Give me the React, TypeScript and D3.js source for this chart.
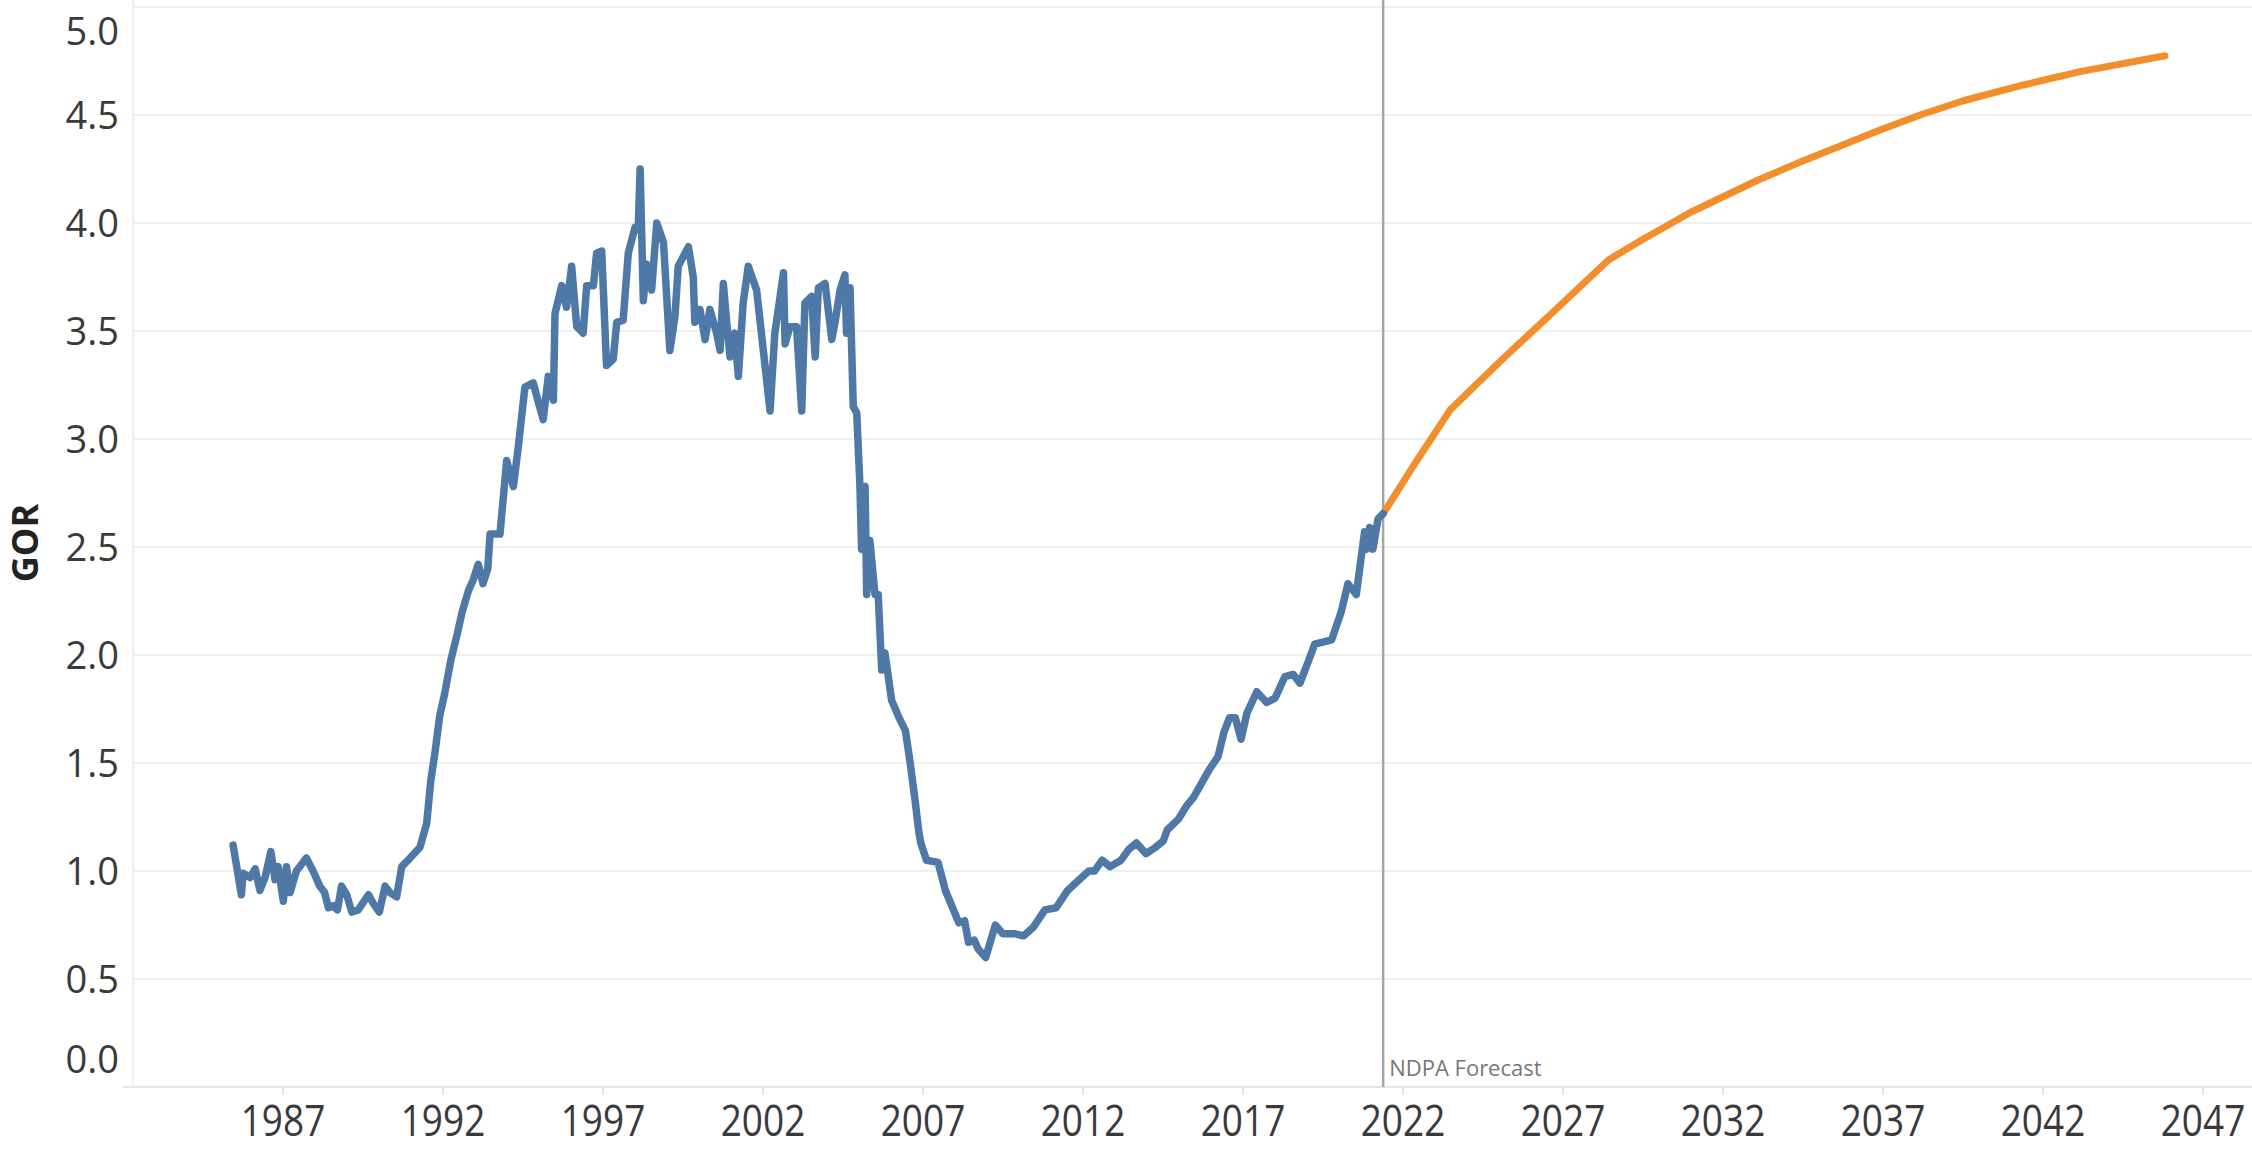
import React from "react";
import * as d3 from "d3";

// Historical GOR (year, value)
const historyYears: number[] = [
  1985.44, 1985.70, 1985.75, 1985.97, 1986.13, 1986.28, 1986.44, 1986.62, 1986.75, 1986.85,
  1987.01, 1987.11, 1987.22, 1987.42, 1987.73, 1987.94, 1988.15, 1988.30, 1988.42, 1988.57,
  1988.70, 1988.83, 1988.99, 1989.15, 1989.35, 1989.67, 1989.82, 1990.01, 1990.19, 1990.34,
  1990.55, 1990.71, 1990.97, 1991.28, 1991.49, 1991.62, 1991.75, 1991.90, 1992.05, 1992.25,
  1992.45, 1992.60, 1992.80, 1992.95, 1993.10, 1993.25, 1993.40, 1993.47, 1993.78, 1993.99,
  1994.20, 1994.35, 1994.56, 1994.82, 1994.98, 1995.13, 1995.29, 1995.45, 1995.50, 1995.71,
  1995.86, 1996.02, 1996.18, 1996.38, 1996.49, 1996.70, 1996.80, 1996.96, 1997.11, 1997.32,
  1997.43, 1997.63, 1997.79, 1998.00, 1998.10, 1998.16, 1998.26, 1998.36, 1998.52, 1998.68,
  1998.89, 1999.09, 1999.25, 1999.35, 1999.67, 1999.82, 1999.87, 2000.03, 2000.19, 2000.34,
  2000.55, 2000.66, 2000.76, 2000.86, 2000.97, 2001.12, 2001.23, 2001.38, 2001.54, 2001.80,
  2002.22, 2002.37, 2002.64, 2002.69, 2002.84, 2003.05, 2003.21, 2003.31, 2003.52, 2003.63,
  2003.73, 2003.94, 2004.15, 2004.25, 2004.41, 2004.56, 2004.61, 2004.72, 2004.82, 2004.93,
  2005.03, 2005.08, 2005.19, 2005.24, 2005.34, 2005.50, 2005.60, 2005.71, 2005.81, 2006.02,
  2006.25, 2006.45, 2006.60, 2006.75, 2006.87, 2006.93, 2007.11, 2007.47, 2007.70, 2008.12,
  2008.30, 2008.42, 2008.60, 2008.72, 2008.96, 2009.26, 2009.49, 2009.85, 2010.15, 2010.45,
  2010.81, 2011.16, 2011.52, 2011.88, 2012.18, 2012.36, 2012.60, 2012.84, 2013.19, 2013.43,
  2013.67, 2013.97, 2014.27, 2014.51, 2014.63, 2014.98, 2015.23, 2015.45, 2015.68, 2015.95,
  2016.22, 2016.40, 2016.58, 2016.76, 2016.94, 2017.12, 2017.43, 2017.74, 2018.00, 2018.31,
  2018.57, 2018.78, 2019.04, 2019.24, 2019.77, 2020.07, 2020.28, 2020.54, 2020.80, 2020.86,
  2020.96, 2021.06, 2021.22, 2021.38,
];
const historyValues: number[] = [
  1.12, 0.89, 0.99, 0.97, 1.01, 0.91, 0.97, 1.09, 0.96, 1.02,
  0.86, 1.02, 0.90, 1.00, 1.06, 1.00, 0.93, 0.90, 0.83, 0.84,
  0.82, 0.93, 0.89, 0.81, 0.82, 0.89, 0.85, 0.81, 0.93, 0.90,
  0.88, 1.02, 1.06, 1.11, 1.22, 1.42, 1.55, 1.72, 1.82, 1.98,
  2.10, 2.20, 2.30, 2.35, 2.42, 2.33, 2.40, 2.56, 2.56, 2.90,
  2.78, 2.96, 3.24, 3.26, 3.17, 3.09, 3.29, 3.18, 3.58, 3.71,
  3.61, 3.80, 3.52, 3.49, 3.71, 3.71, 3.86, 3.87, 3.34, 3.37,
  3.54, 3.55, 3.86, 3.98, 3.97, 4.25, 3.64, 3.81, 3.69, 4.00,
  3.91, 3.41, 3.57, 3.80, 3.89, 3.75, 3.54, 3.60, 3.46, 3.60,
  3.49, 3.41, 3.72, 3.55, 3.38, 3.49, 3.29, 3.63, 3.80, 3.69,
  3.13, 3.49, 3.77, 3.44, 3.52, 3.52, 3.13, 3.63, 3.66, 3.38,
  3.70, 3.72, 3.46, 3.54, 3.69, 3.76, 3.49, 3.70, 3.15, 3.12,
  2.78, 2.49, 2.78, 2.28, 2.53, 2.28, 2.28, 1.93, 2.01, 1.79,
  1.71, 1.65, 1.50, 1.33, 1.18, 1.13, 1.05, 1.04, 0.91, 0.76,
  0.77, 0.67, 0.68, 0.64, 0.60, 0.75, 0.71, 0.71, 0.70, 0.74,
  0.82, 0.83, 0.91, 0.96, 1.00, 1.00, 1.05, 1.02, 1.05, 1.10,
  1.13, 1.08, 1.11, 1.14, 1.19, 1.24, 1.30, 1.34, 1.40, 1.47,
  1.53, 1.64, 1.71, 1.71, 1.61, 1.73, 1.83, 1.78, 1.80, 1.90,
  1.91, 1.87, 1.97, 2.05, 2.07, 2.20, 2.33, 2.28, 2.57, 2.49,
  2.59, 2.49, 2.63, 2.654,
];

// NDPA forecast
const forecastYears: number[] = [
  2021.38, 2022.375, 2023.47, 2025.08, 2026.65, 2028.42, 2029.46, 2031.02, 2033.10, 2034.30,
  2036.91, 2038.16, 2039.51, 2041.39, 2043.16, 2045.81,
];
const forecastValues: number[] = [
  2.654, 2.887, 3.134, 3.366, 3.582, 3.829, 3.921, 4.052, 4.199, 4.275,
  4.430, 4.500, 4.566, 4.639, 4.701, 4.774,
];

const xTickYears: number[] = [1987, 1992, 1997, 2002, 2007, 2012, 2017, 2022, 2027, 2032, 2037, 2042, 2047];
const yTickValues: number[] = [0, 0.5, 1, 1.5, 2, 2.5, 3, 3.5, 4, 4.5, 5];
const forecastStartYear = 2021.38;
const forecastLabel = "NDPA Forecast";
const yAxisTitle = "GOR";

const W = 2252;
const H = 1149;
const paneLeft = 133;
const paneBottom = 1087;

export default function App() {
  const x = d3.scaleLinear().domain([1987, 2047]).range([283, 2203]);
  const y = d3.scaleLinear().domain([0, 5]).range([paneBottom, 7]);

  const hist = historyYears.map((t, i) => [t, historyValues[i]] as [number, number]);
  const fc = forecastYears.map((t, i) => [t, forecastValues[i]] as [number, number]);
  const line = d3
    .line<[number, number]>()
    .x((d) => x(d[0]))
    .y((d) => y(d[1]));

  const labelFont = "'Open Sans', 'Noto Sans', sans-serif";

  return (
    <div style={{ position: "absolute", left: 0, top: 0 }}>
      <svg width={W} height={H} style={{ display: "block", background: "#fff" }}>
        {/* grid lines */}
        {yTickValues.map((v) => (
          <line key={"g" + v} x1={paneLeft} x2={W} y1={y(v)} y2={y(v)} stroke="#efefef" strokeWidth={2} />
        ))}
        {/* left pane border */}
        <line x1={paneLeft} x2={paneLeft} y1={0} y2={paneBottom} stroke="#f0f0f0" strokeWidth={2} />
        {/* x axis line */}
        <line x1={123} x2={W} y1={paneBottom} y2={paneBottom} stroke="#e6e6e6" strokeWidth={2} />
        {/* x ticks */}
        {xTickYears.map((t) => (
          <line key={"t" + t} x1={x(t)} x2={x(t)} y1={paneBottom} y2={paneBottom + 8} stroke="#e2e2e2" strokeWidth={2} />
        ))}
        {/* y labels */}
        {yTickValues.map((v) => {
          let cy = y(v);
          if (v === 5) cy = 31;
          if (v === 0) cy = 1059;
          return (
            <text
              key={"yl" + v}
              x={119}
              y={cy}
              dy="0.36em"
              textAnchor="end"
              fontFamily={labelFont}
              fontSize={38}
              fill="#3a3a3a"
            >
              {v.toFixed(1)}
            </text>
          );
        })}
        {/* x labels */}
        {xTickYears.map((t) => (
          <text
            key={"xl" + t}
            transform={`translate(${x(t)},1136) scale(0.86,1)`}
            textAnchor="middle"
            fontFamily={labelFont}
            fontSize={43}
            fill="#3a3a3a"
          >
            {t}
          </text>
        ))}
        {/* y axis title */}
        <text
          transform={`translate(38,543) rotate(-90)`}
          textAnchor="middle"
          fontFamily={labelFont}
          fontWeight="bold"
          fontSize={36}
          fill="#222"
        >
          {yAxisTitle}
        </text>
        {/* forecast reference line */}
        <line
          x1={x(forecastStartYear)}
          x2={x(forecastStartYear)}
          y1={0}
          y2={paneBottom}
          stroke="#a6a6a6"
          strokeWidth={2.5}
        />
        <text x={x(forecastStartYear) + 6} y={1076} fontFamily={labelFont} fontSize={22} fill="#777">
          {forecastLabel}
        </text>
        {/* series */}
        <path d={line(fc) || ""} fill="none" stroke="#f28e2b" strokeWidth={7} strokeLinejoin="round" strokeLinecap="round" />
        <path d={line(hist) || ""} fill="none" stroke="#4e79a7" strokeWidth={7.5} strokeLinejoin="round" strokeLinecap="round" />
      </svg>
    </div>
  );
}
